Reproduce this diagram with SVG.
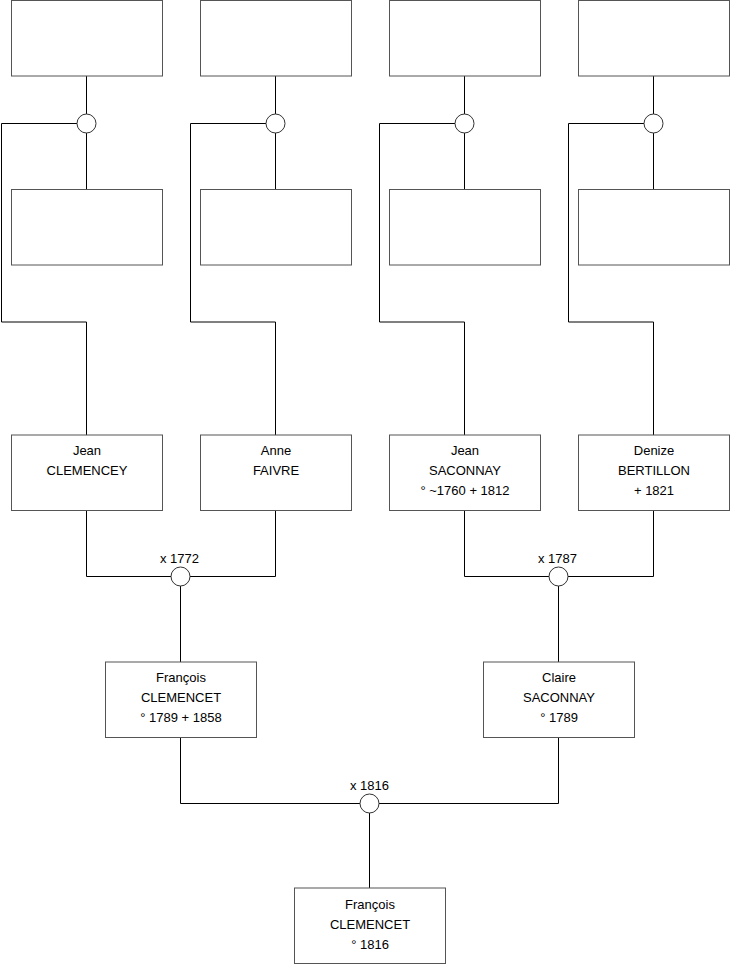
<svg xmlns="http://www.w3.org/2000/svg" width="740" height="975" viewBox="0 0 740 975">
<style>
.box{fill:#fff;stroke:#555;stroke-width:1}
.ln{fill:none;stroke:#000;stroke-width:1}
.ring{fill:#fff;stroke:#333;stroke-width:1}
text{font-family:"Liberation Sans",Arial,sans-serif;font-size:13px;fill:#000;text-anchor:middle}
</style>
<rect width="740" height="975" fill="#fff"/>
<g id="connectors">
<path class="ln" d="M86.5 76V189.5M77 123.5H1.5V322H86.5V435"/>
<path class="ln" d="M275.5 76V189.5M266 123.5H190.5V322H275.5V435"/>
<path class="ln" d="M464.5 76V189.5M455 123.5H379.5V322H464.5V435"/>
<path class="ln" d="M653.5 76V189.5M644 123.5H568.5V322H653.5V435"/>
<path class="ln" d="M86.5 510.5V576.5H275.5V510.5M180.5 576.5V662"/>
<path class="ln" d="M464.5 510.5V576.5H653.5V510.5M558.5 576.5V662"/>
<path class="ln" d="M180.5 737.5V803.5H558.5V737.5M369.5 803.5V888"/>
</g>
<g id="u1"><rect class="box" x="11.5" y="0.5" width="151" height="75.5"/></g>
<g id="u2"><rect class="box" x="200.5" y="0.5" width="151" height="75.5"/></g>
<g id="u3"><rect class="box" x="389.5" y="0.5" width="151" height="75.5"/></g>
<g id="u4"><rect class="box" x="578.5" y="0.5" width="151" height="75.5"/></g>
<g id="m1"><circle class="ring" cx="86.5" cy="123.5" r="9.5"/></g>
<g id="m2"><circle class="ring" cx="275.5" cy="123.5" r="9.5"/></g>
<g id="m3"><circle class="ring" cx="464.5" cy="123.5" r="9.5"/></g>
<g id="m4"><circle class="ring" cx="653.5" cy="123.5" r="9.5"/></g>
<g id="u5"><rect class="box" x="11.5" y="189.5" width="151" height="75.5"/></g>
<g id="u6"><rect class="box" x="200.5" y="189.5" width="151" height="75.5"/></g>
<g id="u7"><rect class="box" x="389.5" y="189.5" width="151" height="75.5"/></g>
<g id="u8"><rect class="box" x="578.5" y="189.5" width="151" height="75.5"/></g>
<g id="jean-clemencey"><rect class="box" x="11.5" y="435" width="151" height="75.5"/><text x="87" y="455">Jean</text><text x="87" y="475">CLEMENCEY</text></g>
<g id="anne-faivre"><rect class="box" x="200.5" y="435" width="151" height="75.5"/><text x="276" y="455">Anne</text><text x="276" y="475">FAIVRE</text></g>
<g id="jean-saconnay"><rect class="box" x="389.5" y="435" width="151" height="75.5"/><text x="465" y="455">Jean</text><text x="465" y="475">SACONNAY</text><text x="465" y="495">° ~1760 + 1812</text></g>
<g id="denize-bertillon"><rect class="box" x="578.5" y="435" width="151" height="75.5"/><text x="654" y="455">Denize</text><text x="654" y="475">BERTILLON</text><text x="654" y="495">+ 1821</text></g>
<g id="m5"><circle class="ring" cx="180.5" cy="576.5" r="9.5"/><text x="179.5" y="563">x 1772</text></g>
<g id="m6"><circle class="ring" cx="558.5" cy="576.5" r="9.5"/><text x="557.5" y="563">x 1787</text></g>
<g id="francois-clemencet"><rect class="box" x="105.5" y="662" width="151" height="75.5"/><text x="181" y="682">François</text><text x="181" y="702">CLEMENCET</text><text x="181" y="722">° 1789 + 1858</text></g>
<g id="claire-saconnay"><rect class="box" x="483.5" y="662" width="151" height="75.5"/><text x="559" y="682">Claire</text><text x="559" y="702">SACONNAY</text><text x="559" y="722">° 1789</text></g>
<g id="m7"><circle class="ring" cx="369.5" cy="803.5" r="9.5"/><text x="369.5" y="790">x 1816</text></g>
<g id="francois-clemencet-1816"><rect class="box" x="294.5" y="888" width="151" height="75.5"/><text x="370" y="909">François</text><text x="370" y="929">CLEMENCET</text><text x="370" y="949">° 1816</text></g>
</svg>
